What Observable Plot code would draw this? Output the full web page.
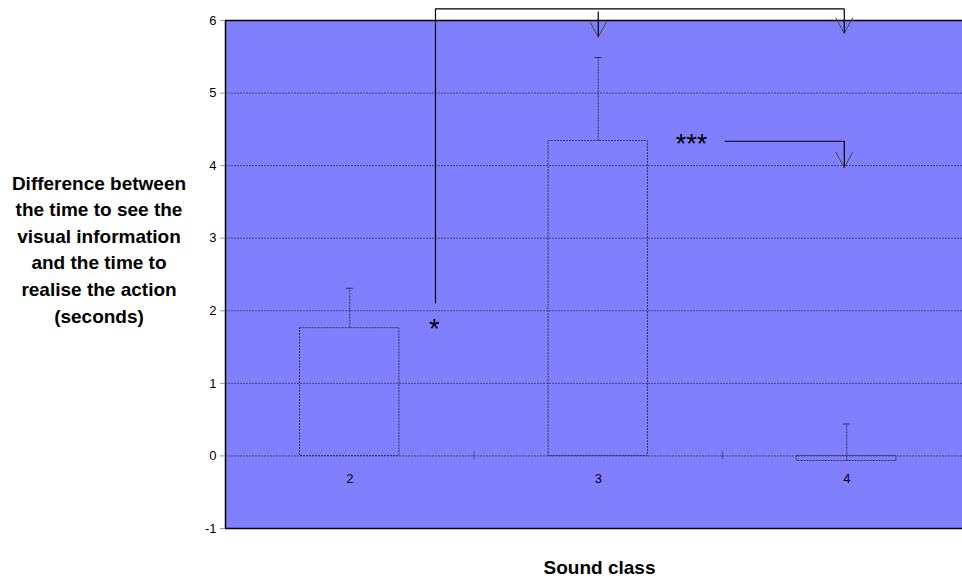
<!DOCTYPE html>
<html><head><meta charset="utf-8">
<script src="https://cdn.jsdelivr.net/npm/d3@7"></script>
<script src="https://cdn.jsdelivr.net/npm/@observablehq/plot@0.6"></script>
<style>html,body{margin:0;padding:0;background:#fff;overflow:hidden}</style>
</head><body><div id="chart"></div>
<script>
const categories = [2, 3, 4];
const means = [1.76, 4.34, -0.07];
const upperErrors = [2.31, 5.49, 0.44];
const yTicks = [-1, 0, 1, 2, 3, 4, 5, 6];
const gridValues = [0, 1, 2, 3, 4, 5];
const yLabel = "Difference between\nthe time to see the\nvisual information\nand the time to\nrealise the action\n(seconds)";
const xLabel = "Sound class";
// significance annotations
const bracketWide = [{x: 2.345, y: 2.11}, {x: 2.345, y: 6.16}, {x: 3.99, y: 6.16}];
const bracketNarrow = [{x: 3.51, y: 4.336}, {x: 3.99, y: 4.336}];
const arrows = [
  {x1: 3.0, y1: 6.124, x2: 3.0, y2: 5.77},
  {x1: 3.99, y1: 6.16, x2: 3.99, y2: 5.82},
  {x1: 3.99, y1: 4.336, x2: 3.99, y2: 3.97}
];
const stars = [{x: 2.34, y: 1.74, t: "*"}, {x: 3.375, y: 4.29, t: "***"}];

const bars = categories.map((c, i) => ({c, mean: means[i], upper: upperErrors[i]}));
const boundaries = categories.slice(1).map(c => c - 0.5);
const xMin = categories[0] - 0.5, xMax = categories[categories.length - 1] + 0.5;

const dark = "#333355";
const dash = "2,1";
// open "V" arrowhead, tip at the origin
const vHead = {draw(ctx) { ctx.moveTo(-8.5, -16); ctx.lineTo(0, 0); ctx.lineTo(8.5, -16); }};

const chart = Plot.plot({
  width: 962, height: 582,
  marginLeft: 225, marginRight: 0, marginTop: 20, marginBottom: 54,
  style: {fontFamily: "'Liberation Sans', Arial, sans-serif", fontSize: "13px", background: "white", overflow: "visible"},
  x: {domain: [xMin, xMax], range: [225, 970.5], axis: null},
  y: {domain: [-1, 6], axis: null},
  marks: [
    Plot.frame({fill: "#8080ff", stroke: null}),
    Plot.ruleY(gridValues, {stroke: dark, strokeDasharray: dash, strokeOpacity: 0.8}),
    Plot.ruleX(boundaries, {y1: 0, y2: 0, insetTop: -4, insetBottom: -4, stroke: dark, strokeOpacity: 0.7}),
    Plot.rect(bars, {x1: d => d.c - 0.2, x2: d => d.c + 0.2, y1: 0, y2: "mean", fill: "none", stroke: dark, strokeDasharray: dash}),
    Plot.ruleX(bars, {x: "c", y1: "mean", y2: "upper", stroke: dark, strokeDasharray: dash}),
    Plot.ruleY(bars, {y: "upper", x1: "c", x2: "c", insetLeft: -3.5, insetRight: -3.5, stroke: dark}),
    Plot.ruleX([xMin], {stroke: "black", strokeWidth: 1.5}),
    Plot.ruleY([-1, 6], {stroke: "black", strokeWidth: 1.5}),
    Plot.axisY(yTicks, {tickSize: 5, tickPadding: 4, fontSize: 13, stroke: "#999", fill: "black", label: null, tickFormat: d => String(d)}),
    Plot.text(bars, {x: "c", y: 0, text: d => String(d.c), dy: 23, fontSize: 13, fill: "black"}),
    Plot.line(bracketWide, {x: "x", y: "y", stroke: "black", strokeWidth: 1.2}),
    Plot.line(bracketNarrow, {x: "x", y: "y", stroke: "black", strokeWidth: 1.2}),
    Plot.link(arrows, {x1: "x1", y1: "y1", x2: "x2", y2: "y2", stroke: "black", strokeWidth: 1.2}),
    Plot.dot(arrows, {x: "x2", y: "y2", symbol: vHead, fill: "none", stroke: "#444", strokeWidth: 1}),
    Plot.text(stars, {x: "x", y: "y", text: "t", fontSize: 27, fill: "black", letterSpacing: 2.5}),
    Plot.text([yLabel], {frameAnchor: "left", dx: -126.5, dy: -27, textAnchor: "middle", fontSize: 19, fontWeight: "bold", lineHeight: 1.4, fill: "black"}),
    Plot.text([xLabel], {frameAnchor: "bottom", dx: 5.5, dy: 45, fontSize: 19, fontWeight: "bold", fill: "black"})
  ]
});
document.getElementById("chart").appendChild(chart);
</script></body></html>
